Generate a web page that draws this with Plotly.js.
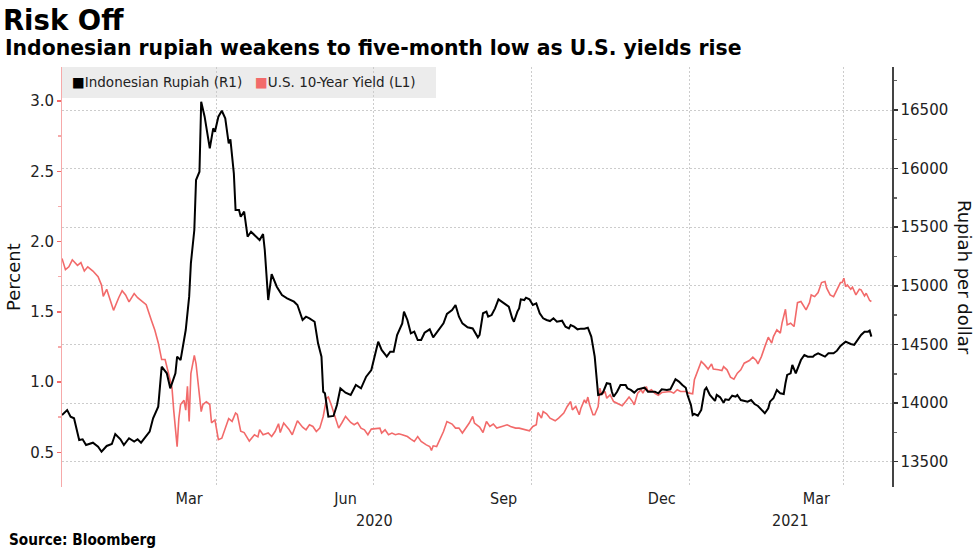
<!DOCTYPE html>
<html>
<head>
<meta charset="utf-8">
<script src="https://cdn.plot.ly/plotly-3.0.1.min.js"></script>
<style>
html,body{margin:0;padding:0;background:#fff;}
#chart{width:977px;height:549px;}
</style>
</head>
<body>
<div id="chart"></div>
<script>
// ---------- DATA ----------
const seriesNames = ['Indonesian Rupiah (R1)', 'U.S. 10-Year Yield (L1)'];

const rupiahDates = [
'2020-01-02','2020-01-05','2020-01-07','2020-01-09','2020-01-12','2020-01-14','2020-01-16','2020-01-20','2020-01-23','2020-01-25','2020-01-28','2020-01-31',
'2020-02-02','2020-02-05','2020-02-07','2020-02-10','2020-02-13','2020-02-15','2020-02-17','2020-02-19','2020-02-22','2020-02-24','2020-02-27','2020-02-29',
'2020-03-03','2020-03-05','2020-03-08','2020-03-09','2020-03-11','2020-03-14','2020-03-16','2020-03-17','2020-03-19','2020-03-20','2020-03-22','2020-03-23','2020-03-25','2020-03-28','2020-03-30','2020-03-31',
'2020-04-02','2020-04-04','2020-04-06','2020-04-08','2020-04-09','2020-04-11','2020-04-12','2020-04-14','2020-04-15','2020-04-17','2020-04-19','2020-04-21','2020-04-24','2020-04-26','2020-04-28','2020-04-29',
'2020-05-01','2020-05-03','2020-05-06','2020-05-09','2020-05-12','2020-05-14','2020-05-16','2020-05-18','2020-05-21','2020-05-23','2020-05-25','2020-05-28','2020-05-30',
'2020-06-01','2020-06-02','2020-06-03','2020-06-05','2020-06-08','2020-06-10','2020-06-12','2020-06-15','2020-06-18','2020-06-21','2020-06-24','2020-06-27','2020-06-30',
'2020-07-02','2020-07-04','2020-07-06','2020-07-09','2020-07-11','2020-07-13','2020-07-15','2020-07-18','2020-07-19','2020-07-21','2020-07-23','2020-07-25','2020-07-27','2020-07-29','2020-07-31',
'2020-08-03','2020-08-05','2020-08-08','2020-08-11','2020-08-13','2020-08-16','2020-08-18','2020-08-20','2020-08-22','2020-08-25','2020-08-28','2020-08-31',
'2020-09-01','2020-09-03','2020-09-05','2020-09-06','2020-09-08','2020-09-10','2020-09-12','2020-09-14','2020-09-16','2020-09-18','2020-09-20','2020-09-21','2020-09-23','2020-09-24','2020-09-25','2020-09-27','2020-09-28','2020-09-30',
'2020-10-02','2020-10-04','2020-10-06','2020-10-08','2020-10-10','2020-10-12','2020-10-14','2020-10-16','2020-10-19','2020-10-21','2020-10-23','2020-10-24','2020-10-26','2020-10-28','2020-10-30',
'2020-11-01','2020-11-03','2020-11-05','2020-11-07','2020-11-08','2020-11-09','2020-11-11','2020-11-12','2020-11-14','2020-11-16','2020-11-17','2020-11-18','2020-11-20','2020-11-22','2020-11-25','2020-11-26','2020-11-28','2020-11-30',
'2020-12-02','2020-12-04','2020-12-06','2020-12-08','2020-12-10','2020-12-12','2020-12-14','2020-12-16','2020-12-19','2020-12-21','2020-12-24','2020-12-26','2020-12-28','2020-12-30','2020-12-31',
'2021-01-02','2021-01-03','2021-01-04','2021-01-06','2021-01-08','2021-01-10','2021-01-11','2021-01-13','2021-01-14','2021-01-16','2021-01-17','2021-01-19','2021-01-21','2021-01-22','2021-01-24','2021-01-26','2021-01-28','2021-01-29','2021-01-31',
'2021-02-02','2021-02-04','2021-02-06','2021-02-08','2021-02-10','2021-02-12','2021-02-14','2021-02-16','2021-02-17','2021-02-19','2021-02-21','2021-02-23','2021-02-25','2021-02-26','2021-02-27',
'2021-03-01','2021-03-02','2021-03-04','2021-03-05','2021-03-07','2021-03-09','2021-03-11','2021-03-14','2021-03-15','2021-03-17','2021-03-19','2021-03-21','2021-03-23','2021-03-26','2021-03-28','2021-03-30',
'2021-04-02','2021-04-03','2021-04-05','2021-04-07','2021-04-09','2021-04-11','2021-04-13','2021-04-15','2021-04-16','2021-04-17'
];
const rupiahValues = [
13898,13940,13884,13870,13685,13691,13642,13662,13628,13585,13634,13651,
13736,13691,13642,13700,13671,13691,13662,13700,13756,13870,13969,14310,
14254,14126,14254,14396,14367,14623,14908,15192,15476,15903,15974,16571,16443,16173,16344,16315,
16443,16494,16429,16216,16250,15960,15647,15647,15590,15633,15419,15462,15419,15391,15442,15306,
14879,15101,14993,14922,14894,14879,14865,14837,14709,14737,14723,14694,14510,
14396,14097,14083,13884,13890,13984,14126,14089,14069,14154,14126,14225,14282,
14396,14524,14453,14396,14438,14438,14581,14680,14780,14709,14595,14609,14538,14538,14600,
14629,14561,14623,14680,14760,14794,14837,14737,14680,14646,14637,14561,
14581,14766,14780,14737,14751,14808,14885,14865,14842,14822,14723,14694,14780,14808,14885,14879,14899,14885,
14837,14851,14766,14723,14709,14700,14723,14694,14703,14652,14637,14666,14652,14629,14635,
14635,14643,14567,14396,14225,14069,14077,14097,14169,14163,14097,14054,14097,14154,14154,14126,14112,14089,
14117,14123,14131,14097,14097,14097,14083,14117,14112,14117,14203,14183,14154,14131,14069,
13984,13898,13907,13892,13941,14112,14131,14069,14054,14018,14069,14049,14003,14032,14026,14063,14054,14069,14026,
14018,14012,14026,13992,13975,13941,13913,13955,14012,14041,14112,14083,14077,14169,14240,
14254,14325,14254,14288,14367,14410,14396,14396,14410,14424,14410,14396,14424,14424,14447,14487,
14524,14516,14504,14496,14538,14581,14609,14609,14618,14567
];

const yieldDates = [
'2020-01-02','2020-01-04','2020-01-06','2020-01-08','2020-01-11','2020-01-13','2020-01-15','2020-01-17','2020-01-20','2020-01-23','2020-01-25','2020-01-26','2020-01-28','2020-01-30',
'2020-02-01','2020-02-04','2020-02-06','2020-02-08','2020-02-10','2020-02-13','2020-02-15','2020-02-18','2020-02-20','2020-02-23','2020-02-25','2020-02-27','2020-02-29',
'2020-03-02','2020-03-04','2020-03-06','2020-03-07','2020-03-09','2020-03-10','2020-03-11','2020-03-13','2020-03-14','2020-03-15','2020-03-16','2020-03-17','2020-03-19','2020-03-20','2020-03-22','2020-03-23','2020-03-24','2020-03-26','2020-03-28','2020-03-29','2020-03-31',
'2020-04-02','2020-04-04','2020-04-06','2020-04-08','2020-04-10','2020-04-12','2020-04-13','2020-04-15','2020-04-17','2020-04-20','2020-04-23','2020-04-25','2020-04-26','2020-04-28',
'2020-05-01','2020-05-03','2020-05-05','2020-05-07','2020-05-08','2020-05-10','2020-05-13','2020-05-15','2020-05-18','2020-05-21','2020-05-23','2020-05-25','2020-05-27','2020-05-29','2020-05-31',
'2020-06-02','2020-06-04','2020-06-05','2020-06-07','2020-06-09','2020-06-11','2020-06-13','2020-06-15','2020-06-18','2020-06-20','2020-06-22','2020-06-24','2020-06-26','2020-06-28','2020-06-30',
'2020-07-03','2020-07-05','2020-07-06','2020-07-08','2020-07-10','2020-07-12','2020-07-14','2020-07-16','2020-07-18','2020-07-21','2020-07-23','2020-07-25','2020-07-27','2020-07-29',
'2020-08-01','2020-08-03','2020-08-04','2020-08-05','2020-08-07','2020-08-09','2020-08-11','2020-08-13','2020-08-16','2020-08-18','2020-08-20','2020-08-22','2020-08-25','2020-08-26','2020-08-28','2020-08-29',
'2020-09-01','2020-09-03','2020-09-05','2020-09-07','2020-09-09','2020-09-11','2020-09-14','2020-09-17','2020-09-19','2020-09-22','2020-09-24','2020-09-27','2020-09-30',
'2020-10-02','2020-10-04','2020-10-05','2020-10-07','2020-10-08','2020-10-10','2020-10-12','2020-10-15','2020-10-17','2020-10-20','2020-10-22','2020-10-24','2020-10-25','2020-10-27','2020-10-29','2020-10-30',
'2020-11-01','2020-11-02','2020-11-03','2020-11-04','2020-11-06','2020-11-07','2020-11-09','2020-11-10','2020-11-11','2020-11-13','2020-11-14','2020-11-16','2020-11-18','2020-11-21','2020-11-23','2020-11-25','2020-11-27','2020-11-29','2020-11-30',
'2020-12-02','2020-12-04','2020-12-05','2020-12-07','2020-12-08','2020-12-10','2020-12-12','2020-12-14','2020-12-16','2020-12-18','2020-12-21','2020-12-23','2020-12-25','2020-12-27','2020-12-28','2020-12-30',
'2021-01-01','2021-01-03','2021-01-04','2021-01-06','2021-01-08','2021-01-10','2021-01-12','2021-01-14','2021-01-15','2021-01-18','2021-01-20','2021-01-21','2021-01-23','2021-01-25','2021-01-27','2021-01-29','2021-01-31',
'2021-02-02','2021-02-05','2021-02-07','2021-02-09','2021-02-10','2021-02-12','2021-02-14','2021-02-16','2021-02-18','2021-02-19','2021-02-21','2021-02-23','2021-02-24','2021-02-26','2021-02-27',
'2021-03-01','2021-03-03','2021-03-04','2021-03-05','2021-03-07','2021-03-09','2021-03-10','2021-03-12','2021-03-13','2021-03-15','2021-03-17','2021-03-19','2021-03-21','2021-03-22','2021-03-24','2021-03-26','2021-03-28','2021-03-30','2021-03-31',
'2021-04-01','2021-04-02','2021-04-03','2021-04-05','2021-04-06','2021-04-08','2021-04-10','2021-04-11','2021-04-13','2021-04-14','2021-04-16','2021-04-17'
];
const yieldValues = [
1.88,1.80,1.82,1.87,1.83,1.85,1.79,1.82,1.79,1.75,1.69,1.61,1.66,1.585,
1.51,1.60,1.65,1.62,1.57,1.63,1.60,1.57,1.55,1.44,1.37,1.28,1.16,
1.16,1.06,0.96,0.80,0.54,0.74,0.84,0.87,0.80,0.97,0.72,1.06,1.19,1.13,0.87,0.79,0.84,0.86,0.84,0.71,0.73,
0.59,0.60,0.67,0.74,0.72,0.78,0.77,0.65,0.64,0.58,0.625,0.61,0.66,0.625,
0.637,0.612,0.648,0.703,0.641,0.708,0.665,0.625,0.724,0.679,0.660,0.696,0.684,0.648,0.672,
0.755,0.885,0.893,0.826,0.743,0.672,0.712,0.755,0.712,0.696,0.712,0.672,0.660,0.625,0.665,
0.672,0.672,0.637,0.660,0.625,0.637,0.625,0.632,0.625,0.612,0.594,0.577,0.612,0.577,
0.553,0.541,0.513,0.546,0.541,0.589,0.648,0.719,0.701,0.672,0.672,0.637,0.689,0.708,0.755,0.708,
0.679,0.641,0.719,0.684,0.701,0.672,0.684,0.696,0.684,0.672,0.672,0.660,0.653,
0.684,0.696,0.783,0.743,0.790,0.774,0.743,0.724,0.743,0.779,0.826,0.861,0.802,0.826,0.767,0.814,
0.873,0.850,0.893,0.838,0.767,0.767,0.826,0.957,0.909,0.933,0.885,0.909,0.861,0.845,0.831,0.861,0.893,0.861,0.838,
0.921,0.945,0.921,0.968,0.933,0.945,0.920,0.905,0.925,0.930,0.933,0.921,0.945,0.933,0.933,0.933,
0.921,0.916,1.016,1.087,1.146,1.122,1.092,1.129,1.092,1.087,1.082,1.110,1.087,1.035,1.021,1.063,1.087,
1.134,1.153,1.177,1.153,1.129,1.181,1.252,1.319,1.277,1.324,1.371,1.348,1.419,1.518,1.407,
1.419,1.395,1.501,1.565,1.573,1.526,1.514,1.565,1.620,1.608,1.637,1.708,1.715,1.668,1.620,1.608,1.656,1.708,1.708,
1.739,1.679,1.691,1.661,1.675,1.620,1.661,1.656,1.613,1.632,1.580,1.573
];

const monthTickDates  = ['2020-03-16','2020-06-15','2020-09-15','2020-12-16','2021-03-16'];
const monthTickLabels = ['Mar','Jun','Sep','Dec','Mar'];
const yearLabels = ['2020','2021'];

// ---------- STYLE ----------
const RED = '#f26a6a';
const GRID = '#cccccc';
const xRange = ['2020-01-02', '2021-04-29'];

function yearMid(year) {
  const a = Math.max(new Date(xRange[0]).getTime(), new Date(year + '-01-01').getTime());
  const b = Math.min(new Date(xRange[1]).getTime(), new Date((+year + 1) + '-01-01').getTime());
  return new Date((a + b) / 2).toISOString().slice(0, 10);
}

const traces = [
  {x: yieldDates, y: yieldValues, name: seriesNames[1], type: 'scatter', mode: 'lines',
   line: {color: RED, width: 1.6}, yaxis: 'y', hoverinfo: 'skip'},
  {x: rupiahDates, y: rupiahValues, name: seriesNames[0], type: 'scatter', mode: 'lines',
   line: {color: '#000', width: 2}, yaxis: 'y2', hoverinfo: 'skip'}
];

const annotations = [
  {text: 'Indonesian rupiah weakens to five-month low as U.S. yields rise',
   xref: 'paper', yref: 'paper', x: -59/830, y: (487-48)/420, xanchor: 'left', yanchor: 'middle',
   showarrow: false, font: {family: 'DejaVu Sans', size: 20.4, weight: 700, color: '#000'}},
  {text: '<span style="color:#000">■</span>' + seriesNames[0] + '\u00a0\u00a0\u00a0<span style="color:' + RED + '">■</span>' + seriesNames[1],
   xref: 'paper', yref: 'paper', x: 8/830, y: (487-82)/420, xanchor: 'left', yanchor: 'middle',
   showarrow: false, font: {family: 'DejaVu Sans', size: 13.5, color: '#222'}},
  {text: 'Percent', textangle: -90, xref: 'paper', yref: 'paper', x: 0, xshift: -49, y: 0.5,
   xanchor: 'center', yanchor: 'middle', showarrow: false,
   font: {family: 'DejaVu Sans', size: 18, color: '#111'}},
  {text: 'Rupiah per dollar', textangle: 90, xref: 'paper', yref: 'paper', x: 1, xshift: 73, y: 0.5,
   xanchor: 'center', yanchor: 'middle', showarrow: false,
   font: {family: 'DejaVu Sans', size: 18, color: '#111'}},
  {text: 'Source: Bloomberg', xref: 'paper', yref: 'paper', x: -55/830, y: 0, yshift: -53,
   xanchor: 'left', yanchor: 'middle', showarrow: false,
   font: {family: 'DejaVu Sans Condensed', size: 15.2, weight: 700, color: '#000'}}
];
yearLabels.forEach(function (yr) {
  annotations.push({text: yr, xref: 'x', yref: 'paper', x: yearMid(yr), y: 0, yshift: -33,
    xanchor: 'center', yanchor: 'middle', showarrow: false,
    font: {family: 'DejaVu Sans Condensed', size: 16, color: '#222'}});
});

const layout = {
  width: 977, height: 549,
  margin: {l: 62, r: 85, t: 67, b: 62, pad: 0},
  paper_bgcolor: '#fff', plot_bgcolor: '#fff',
  showlegend: false,
  font: {family: 'DejaVu Sans, sans-serif', color: '#222'},
  title: {text: 'Risk Off', xref: 'container', yref: 'container', x: 0.003, xanchor: 'left',
          y: 1 - 20/549, yanchor: 'middle',
          font: {family: 'DejaVu Sans', size: 27.5, weight: 700, color: '#000'}},
  xaxis: {
    type: 'date', range: xRange,
    tickmode: 'array', tickvals: monthTickDates, ticktext: monthTickLabels,
    ticks: '', showgrid: false, showline: false, zeroline: false,
    tickfont: {family: 'DejaVu Sans Condensed', size: 16, color: '#222'},
    minor: {tickmode: 'linear', tick0: '2020-04-01', dtick: 'M3', showgrid: true,
            gridcolor: GRID, griddash: '2px,2px', gridwidth: 1, ticks: ''}
  },
  yaxis: {
    range: [0.253, 3.242], side: 'left',
    tickmode: 'linear', tick0: 0.5, dtick: 0.5, tickformat: '.1f',
    ticks: 'outside', ticklen: 4, tickwidth: 1.5, tickcolor: RED,
    showline: true, linecolor: '#f6a9a9', linewidth: 1,
    showgrid: false, zeroline: false,
    tickfont: {family: 'DejaVu Sans', size: 15, color: '#222'},
    minor: {tickmode: 'linear', tick0: 0.25, dtick: 0.25, ticks: 'outside', ticklen: 3,
            tickcolor: '#f6a9a9', showgrid: false}
  },
  yaxis2: {
    overlaying: 'y', side: 'right', range: [13284, 16867],
    tickmode: 'linear', tick0: 13500, dtick: 500, tickformat: 'd',
    ticks: 'outside', ticklen: 4, tickwidth: 1.5, tickcolor: '#333',
    showline: true, linecolor: '#444', linewidth: 1.5,
    showgrid: true, gridcolor: GRID, griddash: '2px,2px', gridwidth: 1,
    zeroline: false,
    tickfont: {family: 'DejaVu Sans', size: 15, color: '#222'},
    minor: {tickmode: 'linear', tick0: 13250, dtick: 250, ticks: 'outside', ticklen: 3,
            tickcolor: '#666', showgrid: false}
  },
  shapes: [
    {type: 'rect', xref: 'paper', yref: 'paper', x0: 0, x1: (436-62)/830, y0: (487-98)/420, y1: 1,
     fillcolor: '#ececec', line: {width: 0}, layer: 'below'}
  ],
  annotations: annotations
};

Plotly.newPlot('chart', traces, layout, {staticPlot: true, displayModeBar: false});
</script>
</body>
</html>
